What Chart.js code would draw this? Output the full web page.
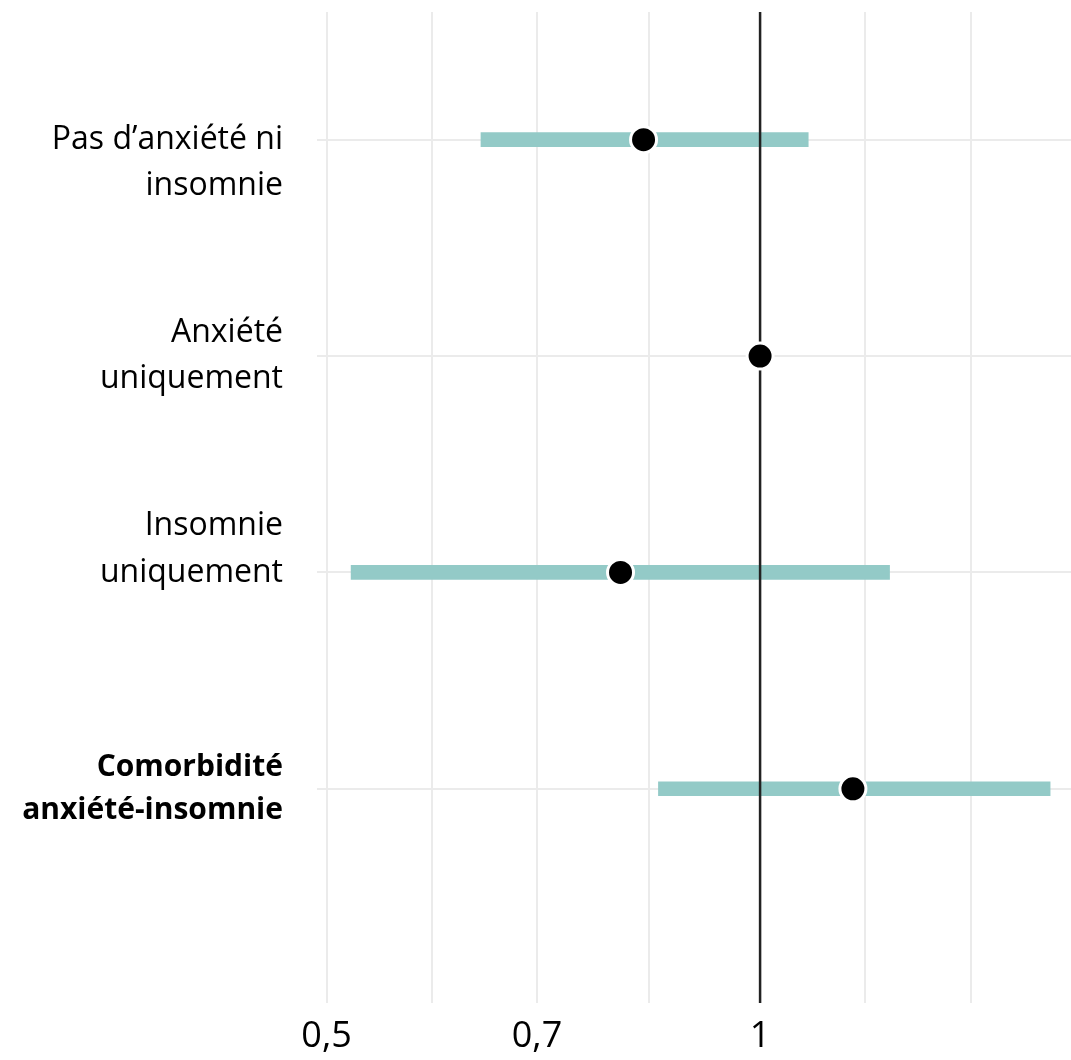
<!DOCTYPE html>
<html>
<head>
<meta charset="utf-8">
<script src="https://cdn.jsdelivr.net/npm/chart.js@4.4.1/dist/chart.umd.min.js"></script>
<style>
  html, body { margin: 0; padding: 0; background: #fff; }
</style>
</head>
<body>
<canvas id="forestChart" width="1071" height="1060"></canvas>
<script>
// rows, top to bottom
const categories = [
  ['Pas d’anxiété ni', 'insomnie'],
  ['Anxiété', 'uniquement'],
  ['Insomnie', 'uniquement'],
  ['Comorbidité', 'anxiété-insomnie']
];
const rowPos = [4, 3, 2, 1];
const estimates = [0.83, 1, 0.80, 1.16];
const lowerCI = [0.64, null, 0.52, 0.85];
const upperCI = [1.08, null, 1.23, 1.59];
const boldRow = [false, false, false, true];

const xMajorTicks = [0.5, 0.7, 1, 1.4];
const xTickLabels = ['0,5', '0,7', '1', ''];

// blank lines added above (+) / below (-) a label to nudge it like the original
const labelNudge = [1, 0, -1, 0];

const yMin = 0.01, yMax = 4.59;
const xMin = 0.4924, xMax = 1.644;

const FONT = "'Open Sans', 'DejaVu Sans', sans-serif";
const GRID = '#ebebeb';

// minor grid lines sit halfway (in log space) between the major ones
let xGridTicks = [];
xMajorTicks.forEach((v, i) => {
  xGridTicks.push(v);
  if (i < xMajorTicks.length - 1) xGridTicks.push(Math.sqrt(v * xMajorTicks[i + 1]));
});

const ciData = [];
rowPos.forEach((y, i) => {
  if (lowerCI[i] != null) ciData.push({ x: [lowerCI[i], upperCI[i]], y: y });
});
const pointData = rowPos.map((y, i) => ({ x: estimates[i], y: y }));

const ctx = document.getElementById('forestChart').getContext('2d');
const chart = new Chart(ctx, {
  type: 'bar',
  data: {
    datasets: [
      {
        type: 'bar',
        indexAxis: 'y',
        data: ciData,
        backgroundColor: '#93cac7',
        borderWidth: 0,
        barThickness: 14,
        order: 3
      },
      {
        type: 'line',
        data: [{ x: 1, y: yMin }, { x: 1, y: yMax }],
        borderColor: '#222',
        borderWidth: 2.5,
        pointRadius: 0,
        order: 2
      },
      {
        type: 'scatter',
        data: pointData,
        backgroundColor: '#000',
        borderColor: '#fff',
        borderWidth: 3,
        pointRadius: 13,
        order: 1
      }
    ]
  },
  options: {
    responsive: false,
    animation: false,
    devicePixelRatio: 1,
    layout: { padding: 0, autoPadding: false },
    plugins: {
      legend: { display: false },
      tooltip: { enabled: false }
    },
    scales: {
      x: {
        type: 'logarithmic',
        min: xMin,
        max: xMax,
        offset: false,
        afterBuildTicks: axis => { axis.ticks = xGridTicks.map(v => ({ value: v })); },
        afterFit: axis => {
          axis.height = 57;
          axis.paddingLeft = 0;
          axis.paddingRight = 0;
        },
        grid: { color: GRID, lineWidth: 2, drawTicks: false, offset: false },
        border: { display: false },
        ticks: {
          autoSkip: false,
          maxRotation: 0,
          padding: 12,
          color: '#000',
          font: { family: FONT, size: 36 },
          callback: value => {
            const i = xMajorTicks.indexOf(value);
            return i >= 0 ? xTickLabels[i] : '';
          }
        }
      },
      y: {
        type: 'linear',
        min: yMin,
        max: yMax,
        offset: false,
        afterBuildTicks: axis => { axis.ticks = rowPos.map(v => ({ value: v })); },
        afterFit: axis => {
          axis.width = 317;
          axis.paddingTop = 12;
          axis.paddingBottom = 0;
        },
        grid: { color: GRID, lineWidth: 2, drawTicks: false, offset: false },
        border: { display: false },
        ticks: {
          padding: 34,
          color: '#000',
          font: c => {
            const bold = c.tick && boldRow[rowPos.indexOf(c.tick.value)];
            return { family: FONT, size: bold ? 30 : 32, lineHeight: 1.45, weight: bold ? 'bold' : 'normal' };
          },
          callback: value => {
            const i = rowPos.indexOf(value);
            let lines = categories[i].slice();
            const n = labelNudge[i];
            for (let k = 0; k < Math.abs(n); k++) {
              if (n > 0) lines.unshift(''); else lines.push('');
            }
            return lines;
          }
        }
      }
    }
  }
});
</script>
</body>
</html>
